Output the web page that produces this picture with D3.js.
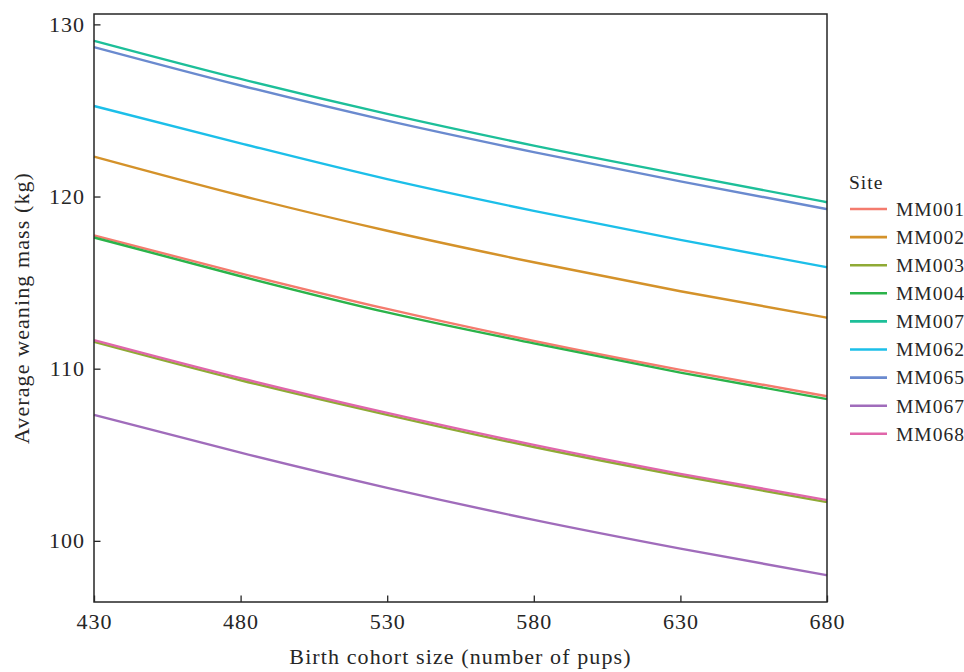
<!DOCTYPE html>
<html>
<head>
<meta charset="utf-8">
<script src="https://cdn.jsdelivr.net/npm/d3@7"></script>
<style>
  body { margin: 0; background: #fff; }
  svg text { font-family: "Liberation Serif", "Times New Roman", serif; fill: #262626; }
</style>
</head>
<body>
<div id="chart"></div>
<script>
// cohort sizes at which the predictions were read
const cohortSizes = [430, 480, 530, 580, 630, 680];
const xTicks = [430, 480, 530, 580, 630, 680];
const yTicks = [100, 110, 120, 130];

const sites = ["MM001", "MM002", "MM003", "MM004", "MM007", "MM062", "MM065", "MM067", "MM068"];
const siteColors = ["#F47B6E", "#D4922A", "#8FAA35", "#2BB34A", "#1DBF99", "#1CBFE9", "#6A8ACF", "#A06CBB", "#E066AA"];

// average weaning mass (kg) per site, one value per cohort size
const mm001 = [117.74, 115.54, 113.47, 111.61, 109.93, 108.40];
const mm002 = [122.32, 120.06, 118.01, 116.18, 114.50, 112.96];
const mm003 = [111.56, 109.33, 107.32, 105.45, 103.78, 102.25];
const mm004 = [117.62, 115.37, 113.27, 111.47, 109.77, 108.23];
const mm007 = [129.05, 126.83, 124.80, 122.96, 121.29, 119.67];
const mm062 = [125.26, 123.09, 121.01, 119.17, 117.48, 115.89];
const mm065 = [128.68, 126.45, 124.41, 122.58, 120.88, 119.27];
const mm067 = [107.32, 105.12, 103.08, 101.22, 99.55, 98.00];
const mm068 = [111.66, 109.45, 107.43, 105.57, 103.89, 102.37];
const massValues = [mm001, mm002, mm003, mm004, mm007, mm062, mm065, mm067, mm068];

const width = 964, height = 672;
const margin = {top: 14, right: 137, bottom: 70, left: 94};

const series = sites.map((name, i) => ({
    name: name,
    color: siteColors[i],
    points: cohortSizes.map((c, j) => ({x: c, y: massValues[i][j]}))
}));

const svg = d3.select("#chart")
    .append("svg")
    .attr("width", width)
    .attr("height", height);

const x = d3.scaleLinear()
    .domain(d3.extent(cohortSizes))
    .range([margin.left, width - margin.right]);

// ggplot style 5% expansion around the data
const allY = massValues.flat();
const yMin = d3.min(allY), yMax = d3.max(allY);
const pad = (yMax - yMin) * 0.05;
const y = d3.scaleLinear()
    .domain([yMin - pad, yMax + pad])
    .range([height - margin.bottom, margin.top]);

// lines
const line = d3.line()
    .x(d => x(d.x))
    .y(d => y(d.y))
    .curve(d3.curveMonotoneX);

svg.append("g")
    .selectAll("path")
    .data(series)
    .enter()
    .append("path")
    .attr("d", d => line(d.points))
    .attr("fill", "none")
    .attr("stroke", d => d.color)
    .attr("stroke-width", 2.4);

// axes, ticks drawn inward
const xAxis = svg.append("g")
    .attr("transform", `translate(0,${height - margin.bottom})`)
    .call(d3.axisBottom(x).tickValues(xTicks).tickSizeInner(-6.5).tickSizeOuter(0).tickPadding(11));
const yAxis = svg.append("g")
    .attr("transform", `translate(${margin.left},0)`)
    .call(d3.axisLeft(y).tickValues(yTicks).tickSizeInner(-6.5).tickSizeOuter(0).tickPadding(9));

[xAxis, yAxis].forEach(g => {
    g.select(".domain").remove();
    g.selectAll(".tick line").attr("stroke", "#262626").attr("stroke-width", 1.3);
    g.selectAll(".tick text")
        .style("font-size", "22px")
        .style("letter-spacing", "1px")
        .attr("fill", "#262626");
});

// panel border
svg.append("rect")
    .attr("x", margin.left)
    .attr("y", margin.top)
    .attr("width", width - margin.left - margin.right)
    .attr("height", height - margin.top - margin.bottom)
    .attr("fill", "none")
    .attr("stroke", "#262626")
    .attr("stroke-width", 1.5);

// axis titles
svg.append("text")
    .attr("x", (margin.left + width - margin.right) / 2)
    .attr("y", 664)
    .attr("text-anchor", "middle")
    .style("font-size", "22px")
    .style("letter-spacing", "1.1px")
    .text("Birth cohort size (number of pups)");

svg.append("text")
    .attr("transform", `translate(29,${(margin.top + height - margin.bottom) / 2}) rotate(-90)`)
    .attr("text-anchor", "middle")
    .style("font-size", "22px")
    .style("letter-spacing", "1.1px")
    .text("Average weaning mass (kg)");

// legend
const legend = svg.append("g")
    .attr("transform", "translate(850,209)");

legend.append("text")
    .attr("x", -1)
    .attr("y", -20)
    .style("font-size", "19.5px")
    .style("letter-spacing", "1px")
    .text("Site");

const item = legend.selectAll("g.item")
    .data(series)
    .enter()
    .append("g")
    .attr("class", "item")
    .attr("transform", (d, i) => `translate(0,${i * 28.1})`);

item.append("line")
    .attr("x1", 0)
    .attr("x2", 37)
    .attr("stroke", d => d.color)
    .attr("stroke-width", 2.6);

item.append("text")
    .attr("x", 46)
    .attr("dy", "0.35em")
    .style("font-size", "19.5px")
    .style("letter-spacing", "1px")
    .text(d => d.name);
</script>
</body>
</html>
